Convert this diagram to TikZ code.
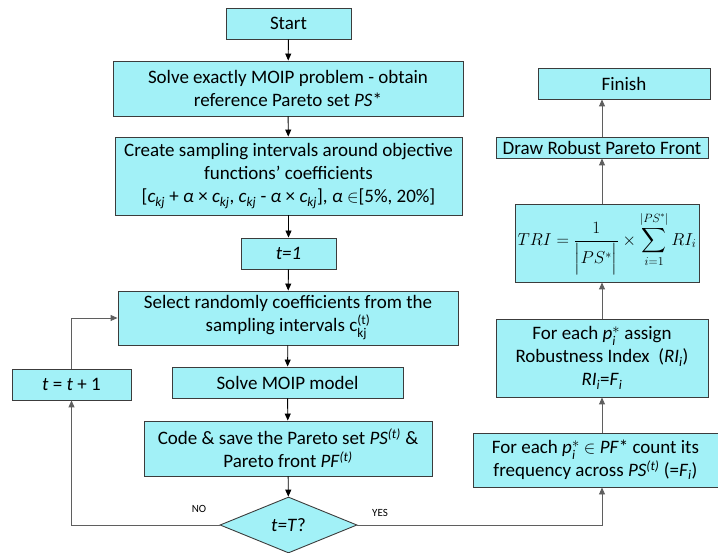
\documentclass[tikz,border=0pt]{standalone}
\usepackage{amsmath}
\usepackage{fontspec}
\setmainfont{Carlito}
\usetikzlibrary{arrows.meta,shapes.geometric}
\definecolor{boxfill}{RGB}{162,241,247}
\definecolor{boxline}{RGB}{60,60,60}
\definecolor{linegray}{RGB}{95,95,95}
\newcommand{\ckj}{\textit{c}\textsubscript{\textit{kj}}}
\newcommand{\pis}{\textit{p}$_{\text{\itshape i}}^{*}$}
\begin{document}
\begin{tikzpicture}[x=1pt,y=-1pt,
  box/.style={draw=boxline,fill=boxfill,line width=0.9pt,align=center,inner sep=0pt,
    font=\fontsize{19}{23}\selectfont},
  dec/.style={draw=boxline,fill=boxfill,line width=0.9pt,diamond,aspect=2.45,inner sep=0pt,
    minimum width=137pt,minimum height=56pt,font=\fontsize{19}{23}\selectfont},
  arr/.style={-{Triangle[width=6pt,length=7pt]},line width=0.9pt,black},
  garr/.style={-{Triangle[width=6pt,length=7pt]},line width=0.9pt,linegray},
  lab/.style={font=\fontsize{11}{12}\selectfont,inner sep=0pt}]
\useasboundingbox (0,0) rectangle (718,553);
% left column
\node[box,minimum width=125pt,minimum height=31pt] (start) at (288.5,23.5) {Start};
\node[box,minimum width=350pt,minimum height=55pt] (solve) at (288,88.5)
  {Solve exactly MOIP problem - obtain\\reference Pareto set \textit{PS}*};
\node[box,minimum width=347pt,minimum height=78pt] (create) at (288.5,176)
  {Create sampling intervals around objective\\functions’ coefficients\\{}%
   [\ckj\ + \textit{α} × \ckj, \ckj\ - \textit{α} × \ckj],\ \textit{α} $\in$[5\%, 20\%]};
\node[box,minimum width=95pt,minimum height=31pt] (tone) at (288.5,253.5) {\textit{t=1}};
\node[box,minimum width=340pt,minimum height=54pt] (select) at (288,318)
  {Select randomly coefficients from the\\sampling intervals c$_{\text{kj}}^{\text{(t)}}$};
\node[box,minimum width=119pt,minimum height=31pt] (tinc) at (71.5,384.5) {\textit{t} = \textit{t} + 1};
\node[box,minimum width=231pt,minimum height=31pt] (solvem) at (287.5,382.5) {Solve MOIP model};
\node[box,minimum width=288pt,minimum height=55pt] (code) at (288,448.5)
  {Code \& save the Pareto set \textit{PS}\textsuperscript{\textit{(t)}} \&\\Pareto front \textit{PF}\textsuperscript{\textit{(t)}}};
\node[dec] (check) at (288.5,525) {\textit{t=T}?};
% right column
\node[box,minimum width=172pt,minimum height=31pt] (finish) at (624,83.5) {Finish};
\node[box,minimum width=212pt,minimum height=21pt] (drawrob) at (602,147.5) {Draw Robust Pareto Front};
\node[box,minimum width=184pt,minimum height=78pt,font=\fontsize{16.5}{20}\selectfont] (tri) at (607,243)
  {$\displaystyle TRI=\frac{1}{\Bigl|PS^{*}\Bigr|}\times\sum_{i=1}^{\left|PS^{*}\right|}RI_i$};
\node[box,minimum width=212pt,minimum height=78pt] (assign) at (602,358)
  {For each \pis\ assign\\Robustness Index\ \ (\textit{RI}\textsubscript{\textit{i}})\\\textit{RI}\textsubscript{\textit{i}}=\textit{F}\textsubscript{\textit{i}}};
\node[box,minimum width=245pt,minimum height=54pt] (count) at (595.5,460)
  {For each \pis\ $\in$ \textit{PF}* count its\\frequency across \textit{PS}\textsuperscript{\textit{(t)}} (=\textit{F}\textsubscript{\textit{i}})};
% helper coordinate
\coordinate (rx) at (602,0);
% left arrows
\draw[arr] (start) -- (solve);
\draw[arr] (solve) -- (create);
\draw[arr] (create) -- (tone);
\draw[arr] (tone) -- (select);
\draw[arr] (select) -- (solvem);
\draw[arr] (solvem) -- (code);
\draw[arr] (code) -- (check);
% loop
\draw[garr] (check.west) -| (tinc.south);
\draw[garr] (tinc.north) |- (select.west);
% yes branch
\draw[garr] (check.east) -| (count.south -| rx);
\draw[garr] (count.north -| rx) -- (assign.south -| rx);
\draw[garr] (assign.north -| rx) -- (tri.south -| rx);
\draw[garr] (tri.north -| rx) -- (drawrob.south -| rx);
\draw[garr] (drawrob.north -| rx) -- (finish.south -| rx);
% labels
\node[lab] (nolab) at (199,509) {NO};
\node[lab] (yeslab) at (380,513) {YES};
\end{tikzpicture}
\end{document}
